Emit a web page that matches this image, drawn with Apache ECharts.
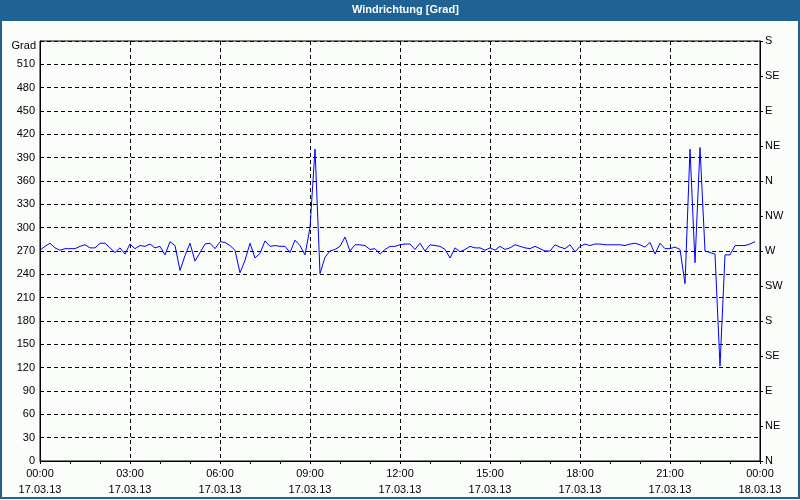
<!DOCTYPE html>
<html><head><meta charset="utf-8">
<script src="https://cdn.jsdelivr.net/npm/echarts@6/dist/echarts.min.js"></script>
<style>html,body{margin:0;padding:0;background:#fafdfa}#c{width:800px;height:500px}</style>
</head><body><div id="c"></div>
<script>
// ---- data ----
const titleText = 'Windrichtung [Grad]';
const unitLabel = 'Grad';
const startDate = '17.03.13';
const endDate = '18.03.13';
const stepMinutes = 10; // sample spacing, starting 17.03.13 00:00
const direction = [
  271, 276, 280, 274, 271, 273, 273, 273, 276, 278, 274, 274,
  280, 280, 274, 268, 274, 266, 279, 273, 277, 276, 279, 274,
  276, 265, 282, 277, 245, 264, 280, 257, 268, 279, 280, 273,
  282, 281, 277, 271, 242, 258, 280, 261, 267, 283, 276, 277,
  276, 276, 268, 284, 277, 265, 300, 401, 241, 262, 270, 272,
  276, 288, 270, 278, 278, 277, 272, 273, 266, 272, 276, 276,
  278, 279, 279, 272, 280, 270, 278, 277, 276, 272, 261, 274,
  269, 272, 276, 274, 274, 271, 274, 271, 276, 272, 274, 278,
  276, 274, 273, 276, 273, 270, 270, 278, 275, 273, 278, 269,
  276, 279, 277, 279, 279, 278, 278, 278, 278, 277, 279, 280,
  278, 275, 281, 266, 280, 273, 273, 275, 272, 228, 401, 255,
  403, 270, 268, 266, 122, 265, 265, 277, 277, 277, 279, 282
];
const compassLabels = ['N','NE','E','SE','S','SW','W','NW','N','NE','E','SE','S'];

// ---- chart ----
const font = 'Liberation Sans, Arial, sans-serif';
const seriesData = direction.map((v, i) => [i * stepMinutes, v]);
const pad = n => (n < 10 ? '0' : '') + n;

const chart = echarts.init(document.getElementById('c'), null, {renderer: 'canvas'});
chart.setOption({
  backgroundColor: '#fafdfa',
  animation: false,
  textStyle: {fontFamily: font, fontSize: 11, color: '#000'},
  graphic: [
    {type: 'rect', z: -10, shape: {x: 0, y: 0, width: 800, height: 21}, style: {fill: '#1e6394'}},
    {type: 'rect', z: 100, silent: true, shape: {x: 1, y: 1, width: 798, height: 497}, style: {fill: 'none', stroke: '#1e6394', lineWidth: 2}},
    {type: 'text', z: 101, left: 352, top: 4, style: {text: titleText, fill: '#fff', font: 'bold 11px ' + font}},
    {type: 'text', z: 101, right: 764, top: 40, style: {text: unitLabel, fill: '#000', font: '11px ' + font, align: 'right'}}
  ],
  grid: {left: 40, right: 40, top: 41, bottom: 39, show: true, borderColor: '#000', borderWidth: 1, backgroundColor: 'transparent'},
  xAxis: {
    type: 'value', min: 0, max: 1440, interval: 180,
    axisLine: {lineStyle: {color: '#000', width: 1}},
    axisTick: {show: true, length: 3, lineStyle: {color: '#000'}},
    minorTick: {show: true, splitNumber: 3, length: 3, lineStyle: {color: '#000'}},
    splitLine: {show: true, lineStyle: {color: '#000', type: [4, 3], width: 1}},
    axisLabel: {
      margin: 5, lineHeight: 16, color: '#000', fontFamily: font, fontSize: 11,
      formatter: v => {
        const h = Math.floor(v / 60) % 24, m = v % 60;
        return pad(h) + ':' + pad(m) + '\n' + (v >= 1440 ? endDate : startDate);
      }
    }
  },
  yAxis: [
    {
      type: 'value', min: 0, max: 540, interval: 30, position: 'left',
      axisLine: {show: true, lineStyle: {color: '#000'}},
      axisTick: {show: false},
      splitLine: {show: true, lineStyle: {color: '#000', type: [4, 3], width: 1}},
      axisLabel: {margin: 5, color: '#000', fontFamily: font, fontSize: 11, showMaxLabel: false}
    },
    {
      type: 'value', min: 0, max: 540, interval: 45, position: 'right',
      axisLine: {show: true, lineStyle: {color: '#000'}},
      axisTick: {show: true, length: 3, lineStyle: {color: '#000'}},
      splitLine: {show: false},
      axisLabel: {margin: 5, color: '#000', fontFamily: font, fontSize: 11,
        formatter: v => compassLabels[Math.round(v / 45)]}
    }
  ],
  series: [{
    type: 'line', data: seriesData, yAxisIndex: 0,
    showSymbol: false, symbol: 'none', smooth: false,
    lineStyle: {color: '#0000ff', width: 1}
  }]
});
</script></body></html>
